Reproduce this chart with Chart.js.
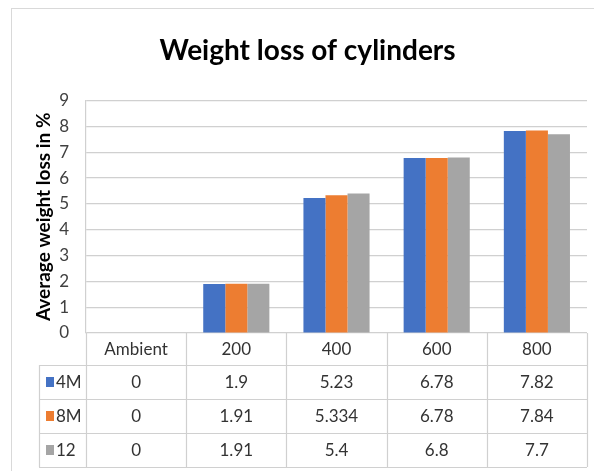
<!DOCTYPE html>
<html>
<head>
<meta charset="utf-8">
<script src="https://cdn.jsdelivr.net/npm/chart.js@4/dist/chart.umd.min.js"></script>
<style>
  html, body { margin: 0; padding: 0; background: #fff; }
  #wrap { width: 594px; height: 471px; position: relative; }
</style>
</head>
<body>
<div id="wrap"><canvas id="chart" width="594" height="471"></canvas></div>
<script>
// data
const categories = ['Ambient', '200', '400', '600', '800'];
const seriesNames = ['4M', '8M', '12'];
const loss4M = [0, 1.9, 5.23, 6.78, 7.82];
const loss8M = [0, 1.91, 5.334, 6.78, 7.84];
const loss12 = [0, 1.91, 5.4, 6.8, 7.7];
const yMin = 0, yMax = 9, yStep = 1;

const colors = ['#4472C4', '#ED7D31', '#A5A5A5'];
const gridColor = '#d0d0d0';
const fontFam = 'Lato, "Open Sans", sans-serif';

// frame + data table under the plot, positioned from the x scale
const tablePlugin = {
  id: 'dataTable',
  beforeDraw(chart) {
    const ctx = chart.ctx;
    ctx.save();
    ctx.fillStyle = '#fff';
    ctx.fillRect(0, 0, chart.width, chart.height);
    ctx.strokeStyle = '#d9d9d9';
    ctx.lineWidth = 1;
    ctx.strokeRect(11.5, 8.5, 800, 800);
    ctx.restore();
  },
  afterDraw(chart) {
    const ctx = chart.ctx;
    const x = chart.scales.x;
    const area = chart.chartArea;
    const step = (area.right - area.left) / categories.length;
    const top = area.bottom;
    const headH = 32;
    const rowH = 34;
    const legLeft = 39;
    const rows = chart.data.datasets;
    const bottom = top + headH + rowH * rows.length;

    ctx.save();
    ctx.strokeStyle = gridColor;
    ctx.lineWidth = 1.2;
    ctx.beginPath();
    // horizontal lines
    for (let r = 0; r <= rows.length; r++) {
      const y = Math.round(top + headH + r * rowH) + 0.5;
      ctx.moveTo(legLeft, y);
      ctx.lineTo(area.right, y);
    }
    // vertical lines
    for (let i = 0; i <= categories.length; i++) {
      const xx = Math.round(area.left + i * step) + 0.5;
      ctx.moveTo(xx, top);
      ctx.lineTo(xx, bottom);
    }
    ctx.moveTo(legLeft + 0.5, top + headH);
    ctx.lineTo(legLeft + 0.5, bottom);
    ctx.stroke();

    ctx.fillStyle = '#333';
    ctx.font = '17px ' + fontFam;
    ctx.textAlign = 'center';
    ctx.textBaseline = 'middle';
    categories.forEach((c, i) => {
      ctx.fillText(c, x.getPixelForValue(i), top + headH / 2 + 1);
    });
    rows.forEach((ds, r) => {
      const yc = top + headH + r * rowH + rowH / 2 + 1;
      ds.data.forEach((v, i) => {
        ctx.fillStyle = '#333';
        ctx.textAlign = 'center';
        ctx.fillText(String(v), x.getPixelForValue(i), yc);
      });
      ctx.fillStyle = ds.backgroundColor;
      ctx.fillRect(46, Math.round(yc - 6), 8, 10);
      ctx.fillStyle = '#333';
      ctx.textAlign = 'left';
      ctx.fillText(ds.label, 56, yc);
    });
    ctx.restore();
  }
};

const ctx = document.getElementById('chart');
new Chart(ctx, {
  type: 'bar',
  data: {
    labels: categories,
    datasets: [
      { label: seriesNames[0], data: loss4M, backgroundColor: colors[0] },
      { label: seriesNames[1], data: loss8M, backgroundColor: colors[1] },
      { label: seriesNames[2], data: loss12, backgroundColor: colors[2] }
    ]
  },
  options: {
    responsive: false,
    animation: false,
    devicePixelRatio: 1,
    categoryPercentage: 0.66,
    barPercentage: 1,
    layout: { padding: { top: 8, left: 28, right: 7, bottom: 138 } },
    plugins: {
      legend: { display: false },
      tooltip: { enabled: false },
      title: {
        display: true,
        text: 'Weight loss of cylinders',
        color: '#000',
        font: { family: fontFam, size: 28, weight: 'bold' },
        padding: { top: 26, bottom: 33 }
      }
    },
    scales: {
      x: {
        display: false
      },
      y: {
        min: yMin,
        max: yMax,
        afterFit(scale) { scale.width = 58; },
        ticks: {
          stepSize: yStep,
          padding: 17,
          color: '#404040',
          font: { family: fontFam, size: 17 }
        },
        grid: { color: gridColor, lineWidth: 1.2, drawTicks: false },
        border: { display: true, color: gridColor, width: 1.2 },
        title: {
          display: true,
          text: 'Average weight loss in %',
          color: '#000',
          font: { family: fontFam, size: 19, weight: 'bold' },
          padding: { top: 4, bottom: 0 }
        }
      }
    }
  },
  plugins: [tablePlugin]
});
</script>
</body>
</html>
